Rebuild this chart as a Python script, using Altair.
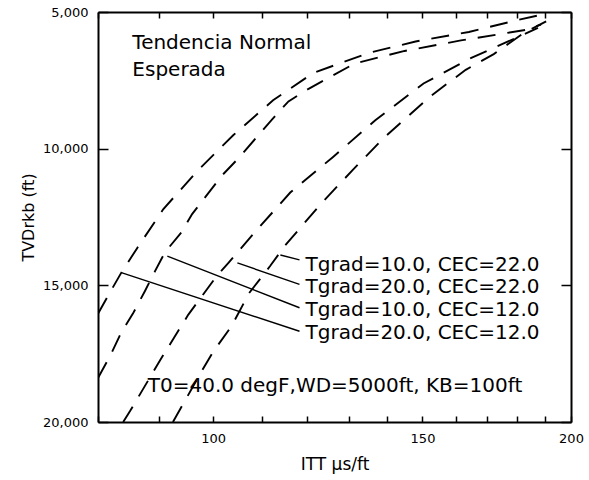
import altair as alt
import pandas as pd

# ---- data ----
itt_a = [80.0, 81.9, 83.7, 86.3, 90.8, 97.1, 104.0, 112.3, 121.4, 135.1, 148.0, 164.1, 179.7, 187.9]
tvd_a = [16040, 15250, 14535, 13640, 12210, 10790, 9500, 8230, 7230, 6500, 6080, 5730, 5310, 5120]

itt_b = [80.0, 82.0, 83.7, 85.6, 87.6, 89.3, 91.1, 94.0, 96.0, 101.8, 105.0, 112.1, 115.7, 120.3,
         131.5, 144.9, 161.6, 183.3, 188.7]
tvd_b = [18390, 17535, 16715, 16035, 15215, 14500, 13785, 13070, 12395, 10965, 10355, 8925, 8270, 7810,
         6885, 6425, 6040, 5655, 5460]

itt_c = [84.0, 85.1, 90.2, 95.3, 100.6, 103.0, 108.5, 116.1, 126.0, 136.9, 150.3, 164.7, 176.3, 187.6]
tvd_c = [20000, 19610, 17750, 16070, 14680, 14180, 13035, 11605, 10320, 8960, 7615, 6690, 6115, 5580]

itt_d = [92.5, 97.9, 100.0, 103.6, 107.2, 111.7, 114.8, 123.1, 131.0, 139.1, 152.4, 163.1, 172.2, 182.5, 190.6]
tvd_d = [20000, 18105, 17430, 16500, 15285, 14285, 13570, 12035, 10785, 9615, 8075, 7115, 6540, 5770, 5345]

series_names = ["Tgrad=20.0, CEC=12.0", "Tgrad=10.0, CEC=12.0", "Tgrad=20.0, CEC=22.0", "Tgrad=10.0, CEC=22.0"]

label_text = ["Tgrad=10.0, CEC=22.0", "Tgrad=20.0, CEC=22.0", "Tgrad=10.0, CEC=12.0", "Tgrad=20.0, CEC=12.0"]
label_itt = [118.9, 118.9, 118.9, 118.9]
label_tvd = [14250, 15070, 15890, 16750]

lead_itt0 = [113.9, 104.8, 91.5, 83.7]
lead_tvd0 = [13890, 14180, 13930, 14535]
lead_itt1 = [118.2, 118.2, 118.2, 118.2]
lead_tvd1 = [14070, 14965, 15820, 16680]

note_text = ["Tendencia Normal", "Esperada"]
note_itt = [85.5, 85.5]
note_tvd = [6134, 7122]

cond_text = ["T0=40.0 degF,WD=5000ft, KB=100ft"]
cond_itt = [88.1]
cond_tvd = [18683]

x_ticks = [80, 90, 100, 110, 120, 130, 140, 150, 160, 170, 180, 190, 200]
x_labels = [100, 150, 200]
y_ticks = [5000, 10000, 15000, 20000]

# ---- tables ----
rows = []
for name, xs, ys in zip(series_names, [itt_a, itt_b, itt_c, itt_d], [tvd_a, tvd_b, tvd_c, tvd_d]):
    for i, (xv, yv) in enumerate(zip(xs, ys)):
        rows.append({"series": name, "idx": i, "itt": xv, "tvd": yv})
curves = pd.DataFrame(rows)
leaders = pd.DataFrame({"x0": lead_itt0, "y0": lead_tvd0, "x1": lead_itt1, "y1": lead_tvd1})
labels = pd.DataFrame({"t": label_text, "x": label_itt, "y": label_tvd})
notes = pd.DataFrame({"t": note_text, "x": note_itt, "y": note_tvd})
cond = pd.DataFrame({"t": cond_text, "x": cond_itt, "y": cond_tvd})

FONT = "DejaVu Sans"
xscale = alt.Scale(type="log", domain=[80, 200], nice=False)
yscale = alt.Scale(domain=[5000, 20000], reverse=True, nice=False, zero=False)
lbl_expr = "indexof(" + str(x_labels) + ", datum.value) >= 0 ? datum.value : ''"

x_bottom = alt.Axis(orient="bottom", values=x_ticks, labelExpr=lbl_expr, tickSize={"expr": "-6"},
                    labelFlush=False, labelOverlap=False, labelFontSize=13, labelPadding=16,
                    title="ITT µs/ft", titleFontSize=17, titleFontWeight="normal", titlePadding=11)
y_left = alt.Axis(orient="left", values=y_ticks, format=",d", tickSize={"expr": "-10"},
                  labelFlush=False, labelOverlap=False, labelFontSize=13, labelPadding=20,
                  title="TVDrkb (ft)", titleFontSize=16, titleFontWeight="normal", titlePadding=6)
x_top = alt.Axis(orient="top", values=x_ticks, labels=False, tickSize={"expr": "-6"}, title=None)
y_right = alt.Axis(orient="right", values=y_ticks, labels=False, tickSize={"expr": "-10"}, title=None)

lines = alt.Chart(curves).mark_line(color="black", strokeWidth=1.9, strokeDash=[18, 12], clip=True).encode(
    x=alt.X("itt:Q", scale=xscale, axis=x_bottom),
    y=alt.Y("tvd:Q", scale=yscale, axis=y_left),
    detail="series:N",
    order="idx:Q",
)

mirror = alt.Chart(curves).mark_line(opacity=0).encode(
    x=alt.X("itt:Q", axis=x_top),
    y=alt.Y("tvd:Q", axis=y_right),
    detail="series:N",
    order="idx:Q",
)

lead = alt.Chart(leaders).mark_rule(color="black", strokeWidth=1.4).encode(
    x=alt.X("x0:Q", axis=None), y=alt.Y("y0:Q", axis=None),
    x2="x1:Q", y2="y1:Q",
)

lab = alt.Chart(labels).mark_text(align="left", baseline="middle", font=FONT, fontSize=20, dx=3, color="black").encode(
    x=alt.X("x:Q", axis=None), y=alt.Y("y:Q", axis=None), text="t:N",
)

note = alt.Chart(notes).mark_text(align="left", baseline="middle", font=FONT, fontSize=20, color="black").encode(
    x=alt.X("x:Q", axis=None), y=alt.Y("y:Q", axis=None), text="t:N",
)

cnd = alt.Chart(cond).mark_text(align="left", baseline="middle", font=FONT, fontSize=20, color="black").encode(
    x=alt.X("x:Q", axis=None), y=alt.Y("y:Q", axis=None), text="t:N",
)

chart = alt.layer(lines, mirror, lead, lab, note, cnd).resolve_axis(
    x="independent", y="independent"
).properties(
    width=473, height=410,
    padding={"left": 98, "top": 12, "right": 18, "bottom": 58},
    autosize=alt.AutoSizeParams(type="none"),
    background="white",
).configure_view(stroke=None).configure_axis(
    grid=False, domainColor="black", domainWidth=2, tickColor="black", tickWidth=1.5,
    labelFont=FONT, titleFont=FONT, labelColor="black", titleColor="black",
)

chart.save("out.html", embed_options={"renderer": "svg", "actions": False})
